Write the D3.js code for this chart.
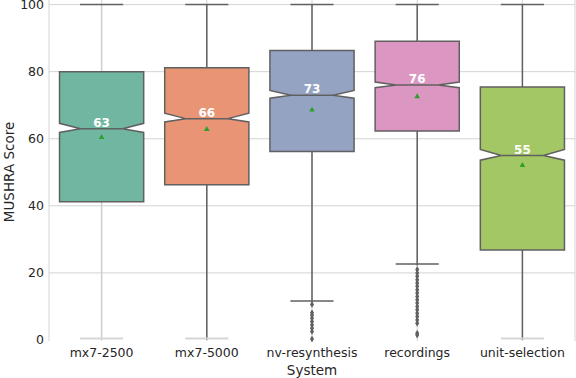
<!DOCTYPE html>
<html><head><meta charset="utf-8">
<script src="https://cdn.jsdelivr.net/npm/d3@7"></script>
<style>body{margin:0;background:#fff}svg{display:block;font-family:"DejaVu Sans",sans-serif}</style>
</head><body><svg id="c" width="576" height="378"></svg>
<script>
const categories = ["mx7-2500","mx7-5000","nv-resynthesis","recordings","unit-selection"];
const whiskerLow = [0, 0, 11.2, 22.2, 0];
const q1 = [41.2, 46.3, 56.2, 62.3, 26.8];
const medians = [63, 66, 73, 76, 55];
const notchLow = [61.9, 65.0, 72.1, 75.2, 53.6];
const notchHigh = [64.6, 67.6, 74.4, 76.9, 56.8];
const q3 = [80, 81.2, 86.3, 89.1, 75.4];
const whiskerHigh = [100, 100, 100, 100, 100];
const means = [60.4, 62.8, 68.6, 72.6, 52.1];
const outliers = [[], [], [10.6, 8.1, 7.4, 6.5, 5.5, 4.5, 3.5, 2.5, 0.3],
  [21, 20, 19, 18, 17, 16, 15, 14, 13, 12, 11, 10, 9, 8, 7, 6, 5, 2, 1.5], []];
const colors = ["#71b6a1","#e99575","#95a3c3","#db96c1","#a2c764"];
const yTicks = [0, 20, 40, 60, 80, 100];

const svg = d3.select("#c");
const mLeft = 49, mRight = 575, mTop = 4.6, mBottom = 340;
const x = d3.scaleBand().domain(categories).range([mLeft, mRight]).padding(0);
const y = d3.scaleLinear().domain([0, 100]).range([mBottom, mTop]);
const grid = "#d3d3d3", line = "#606060";

// grid
svg.append("g").selectAll("line").data(yTicks.filter(d => d > 0)).join("line")
  .attr("x1", mLeft).attr("x2", mRight).attr("y1", d => y(d)).attr("y2", d => y(d))
  .attr("stroke", grid).attr("stroke-width", 1);
svg.append("g").selectAll("line").data(categories).join("line")
  .attr("x1", d => x(d) + x.bandwidth()/2).attr("x2", d => x(d) + x.bandwidth()/2)
  .attr("y1", 0).attr("y2", mBottom + 1).attr("stroke", grid).attr("stroke-width", 1);
svg.append("line").attr("x1", mLeft).attr("x2", mLeft).attr("y1", 0).attr("y2", mBottom + 1).attr("stroke", grid);
svg.append("line").attr("x1", mRight).attr("x2", mRight).attr("y1", 0).attr("y2", mBottom + 1).attr("stroke", grid);

const bw = x.bandwidth() * 0.8;
const g = svg.append("g");
categories.forEach((c, i) => {
  const cx = x(c) + x.bandwidth()/2;
  const x0 = cx - bw/2, x1 = cx + bw/2;
  const wc = i === 0 ? "#cfcfcf" : line;
  g.append("line").attr("x1", cx).attr("x2", cx).attr("y1", y(q3[i])).attr("y2", y(whiskerHigh[i])).attr("stroke", wc).attr("stroke-width", 1.5);
  g.append("line").attr("x1", cx).attr("x2", cx).attr("y1", y(q1[i])).attr("y2", y(whiskerLow[i])).attr("stroke", wc).attr("stroke-width", 1.5);
  const capW = bw * 0.5;
  g.append("line").attr("x1", cx - capW/2 - 0.5).attr("x2", cx + capW/2 + 0.5).attr("y1", y(whiskerHigh[i])).attr("y2", y(whiskerHigh[i])).attr("stroke", line).attr("stroke-width", 1.5);
  g.append("line").attr("x1", cx - capW/2 - 0.5).attr("x2", cx + capW/2 + 0.5).attr("y1", y(whiskerLow[i]) - 1.5).attr("y2", y(whiskerLow[i]) - 1.5)
    .attr("stroke", whiskerLow[i] === 0 ? "#d6d6d6" : line).attr("stroke-width", whiskerLow[i] === 0 ? 2 : 1.5);
  const n0 = x0 + bw/4, n1 = x1 - bw/4;
  const pts = [[x0, y(q1[i])], [x0, y(notchLow[i])], [n0, y(medians[i])], [x0, y(notchHigh[i])], [x0, y(q3[i])],
    [x1, y(q3[i])], [x1, y(notchHigh[i])], [n1, y(medians[i])], [x1, y(notchLow[i])], [x1, y(q1[i])]];
  g.append("path").attr("d", d3.line()(pts) + "Z").attr("fill", colors[i]).attr("stroke", line).attr("stroke-width", 1.5).attr("stroke-linejoin", "miter");
  g.append("line").attr("x1", n0).attr("x2", n1).attr("y1", y(medians[i])).attr("y2", y(medians[i])).attr("stroke", line).attr("stroke-width", 1.5);
  g.selectAll(null).data(outliers[i]).join("path")
    .attr("d", d3.symbol(d3.symbolDiamond, 14)())
    .attr("transform", d => `translate(${cx},${y(d)})`).attr("fill", line);
  g.append("path").attr("d", d3.symbol(d3.symbolTriangle, 14)())
    .attr("transform", `translate(${cx},${y(means[i])})`).attr("fill", "#2ca02c");
  g.append("text").attr("x", cx).attr("y", y(medians[i]) - 2).attr("text-anchor", "middle")
    .attr("fill", "#fff").attr("font-weight", "bold").attr("font-size", 12).text(medians[i]);
});

svg.append("g").selectAll("text").data(yTicks).join("text")
  .attr("x", 44).attr("y", d => y(d)).attr("dy", "0.35em").attr("text-anchor", "end")
  .attr("font-size", 12.5).attr("fill", "#262626").text(d => d);
svg.append("g").selectAll("text").data(categories).join("text")
  .attr("x", d => x(d) + x.bandwidth()/2).attr("y", 357).attr("text-anchor", "middle")
  .attr("font-size", 12.5).attr("fill", "#262626").text(d => d);
svg.append("text").attr("x", 312).attr("y", 375).attr("text-anchor", "middle").attr("font-size", 13.5).attr("fill", "#262626").text("System");
svg.append("text").attr("transform", "translate(14,172) rotate(-90)").attr("text-anchor", "middle").attr("font-size", 13.5).attr("fill", "#262626").text("MUSHRA Score");
</script></body></html>
